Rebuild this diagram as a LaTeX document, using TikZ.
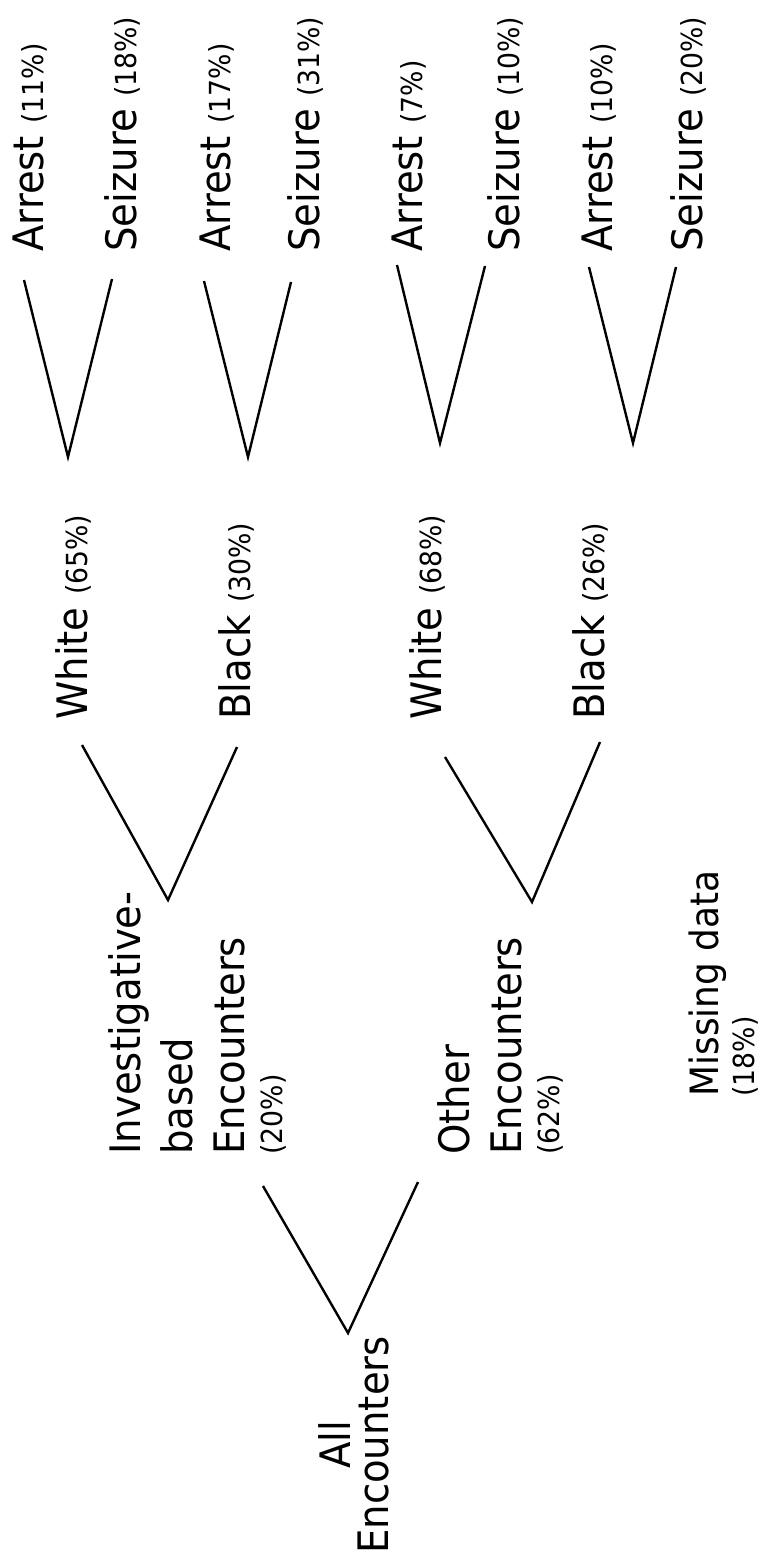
\documentclass[tikz,border=0pt]{standalone}
\usepackage{fontspec}
\setmainfont[FakeStretch=0.92]{DejaVu Sans}
\usepackage{tikz}

\newcommand{\pctg}[1]{{\fontsize{14.5}{17}\selectfont(#1\%)}}

\begin{document}
\begin{tikzpicture}[x=0.5pt,y=0.5pt]
					\tikzstyle{every node}+=[inner sep=0pt]
					\tikzstyle{lbl}=[rotate=90,font=\fontsize{21}{26}\selectfont]
					\tikzstyle{leaf}=[lbl,anchor=base west]
					\tikzstyle{grp}=[lbl,anchor=north west,align=left]
					\tikzstyle{arm}=[black,line width=1.2pt]
					\useasboundingbox (0,0) rectangle (775,-1563);
					\node [leaf] (a1) at (43,-252) {Arrest \pctg{11}};
					\node [leaf] (s1) at (136,-252) {Seizure \pctg{18}};
					\node [leaf] (a2) at (230,-252) {Arrest \pctg{17}};
					\node [leaf] (s2) at (319,-252) {Seizure \pctg{31}};
					\node [leaf] (a3) at (422,-252) {Arrest \pctg{7}};
					\node [leaf] (s3) at (519,-252) {Seizure \pctg{10}};
					\node [leaf] (a4) at (612,-252) {Arrest \pctg{10}};
					\node [leaf] (s4) at (702,-252) {Seizure \pctg{20}};
					\node [leaf] (w1) at (87,-720) {White \pctg{65}};
					\node [leaf] (b1) at (250,-720) {Black \pctg{30}};
					\node [leaf] (w2) at (441,-720) {White \pctg{68}};
					\node [leaf] (b2) at (604,-720) {Black \pctg{26}};
					\node [grp] (inv) at (108,-1155) {Investigative-\\based\\Encounters\\[-7pt]\pctg{20}};
					\node [grp] (oth) at (437,-1155) {Other\\Encounters\\[-7pt]\pctg{62}};
					\node [grp,font=\fontsize{19.5}{24}\selectfont] (mis) at (688,-1097) {Missing data\\[-6pt]\pctg{18}};
					\node [lbl,align=center,anchor=north] (all) at (318,-1445) {All\\[-7pt]Encounters};
					\coordinate (w1v) at (68,-457);
					\coordinate (a1e) at (24,-280);
					\coordinate (s1e) at (112,-279);
					\coordinate (b1v) at (248,-457);
					\coordinate (a2e) at (204,-281);
					\coordinate (s2e) at (291,-282);
					\coordinate (w2v) at (440,-443);
					\coordinate (a3e) at (397,-265);
					\coordinate (s3e) at (485,-266);
					\coordinate (b2v) at (633,-443);
					\coordinate (a4e) at (589,-267);
					\coordinate (s4e) at (676,-267);
					\coordinate (invv) at (168,-900);
					\coordinate (w1e) at (82,-745);
					\coordinate (b1e) at (237,-747);
					\coordinate (othv) at (532,-902);
					\coordinate (w2e) at (445,-757);
					\coordinate (b2e) at (600,-742);
					\coordinate (allv) at (348,-1333);
					\coordinate (inve) at (263,-1186);
					\coordinate (othe) at (418,-1182);
					\draw [arm] (a1e) -- (w1v) -- (s1e);
					\draw [arm] (a2e) -- (b1v) -- (s2e);
					\draw [arm] (a3e) -- (w2v) -- (s3e);
					\draw [arm] (a4e) -- (b2v) -- (s4e);
					\draw [arm] (w1e) -- (invv) -- (b1e);
					\draw [arm] (w2e) -- (othv) -- (b2e);
					\draw [arm] (inve) -- (allv) -- (othe);
\end{tikzpicture}
\end{document}
